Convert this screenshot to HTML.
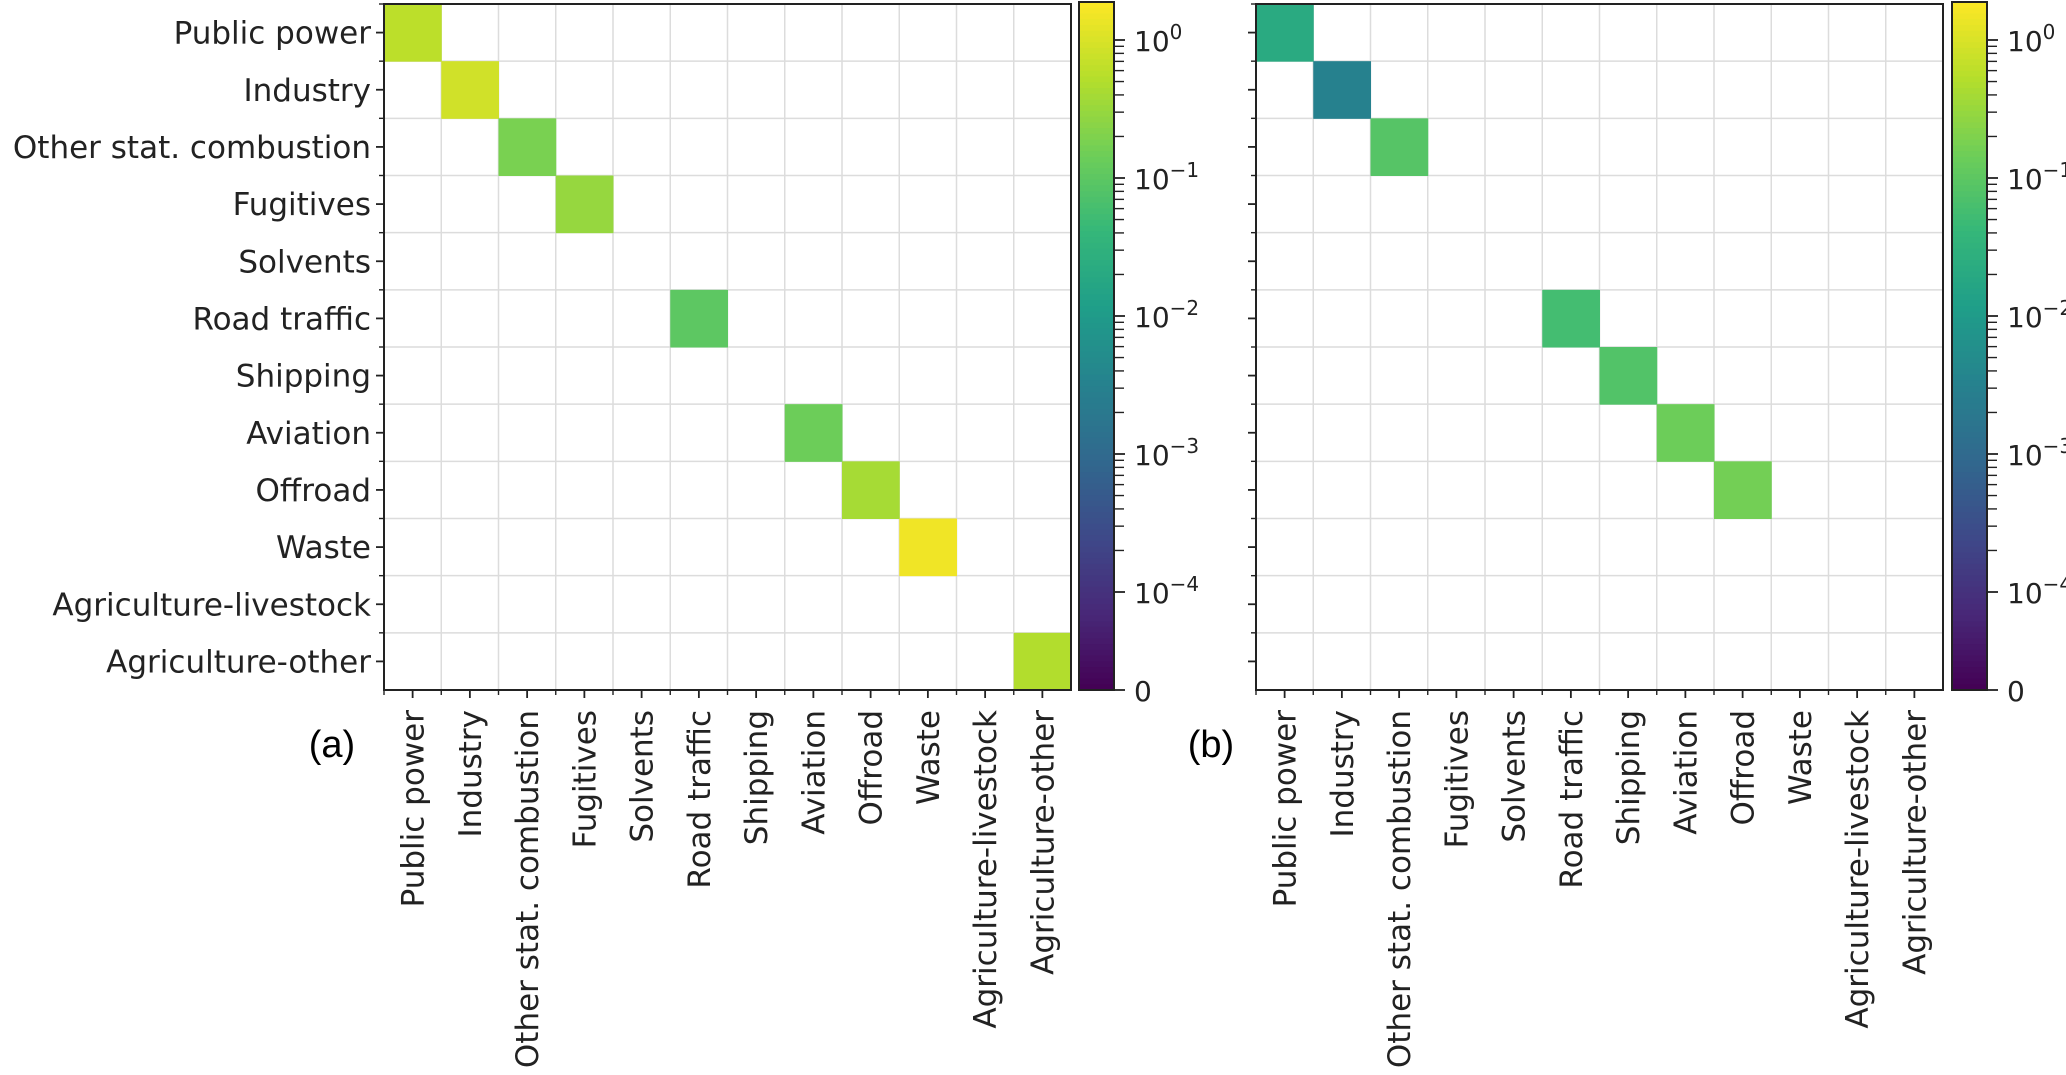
<!DOCTYPE html>
<html><head><meta charset="utf-8">
<style>
html,body{margin:0;padding:0;background:#fff;}
svg{display:block;}
text{font-family:"DejaVu Sans","Liberation Sans",sans-serif;fill:#222;}
.pl{font-family:"Liberation Sans",sans-serif;font-size:38px;fill:#000;}
</style></head>
<body>
<svg id="fig" width="2066" height="1075" viewBox="0 0 2066 1075" xmlns="http://www.w3.org/2000/svg">
<text class="pl" x="332" y="757" text-anchor="middle">(a)</text>
<text class="pl" x="1211" y="757" text-anchor="middle">(b)</text>
</svg>
<script>
const categories = ["Public power","Industry","Other stat. combustion","Fugitives","Solvents","Road traffic","Shipping","Aviation","Offroad","Waste","Agriculture-livestock","Agriculture-other"];
// diagonal values (null = empty)
const valuesA = [0.6,0.85,0.18,0.30,null,0.10,null,0.14,0.40,1.5,null,0.5];
const valuesB = [0.0215,0.0031,0.085,null,null,0.057,0.078,0.14,0.16,null,null,null];
const cbTickLabels = ["0","10","10","10","10","10"];
const cbTickExps = [null,"−4","−3","−2","−1","0"];
const cbTickValues = [0,1e-4,1e-3,1e-2,1e-1,1];

const NS="http://www.w3.org/2000/svg";
const svg=document.getElementById('fig');
function mk(tag,attrs,parent){const e=document.createElementNS(NS,tag);for(const k in attrs)e.setAttribute(k,attrs[k]);(parent||svg).appendChild(e);return e;}

const VIR=[[68,1,84],[72,40,120],[62,73,137],[49,104,142],[38,130,142],[31,158,137],[53,183,121],[110,206,88],[181,222,43],[253,231,37]];
function viridis(t){t=Math.max(0,Math.min(1,t));const s=t*(VIR.length-1);const i=Math.min(VIR.length-2,Math.floor(s));const f=s-i;const c=VIR[i].map((v,k)=>Math.round(v+(VIR[i+1][k]-v)*f));return `rgb(${c[0]},${c[1]},${c[2]})`;}

// symlog norm: bar spans y 2..690 (688px); 1e-4 at 98px, decade = 138px
const CB_TOP=2,CB_BOT=690,CB_H=688;
function normFrac(v){ if(v<=1e-4) return (v/1e-4)*98/CB_H; return (98+(Math.log10(v)+4)*138)/CB_H; }
function cbY(v){return CB_BOT-normFrac(v)*CB_H;}

function panel(px,values,showY,cbx,id){
  const top=4,bot=690,left=px,right=px+687;
  const cw=(right-left)/12,ch=(bot-top)/12;
  const g=mk('g',{});  
  mk('rect',{x:left,y:top,width:right-left,height:bot-top,fill:'#fff'},g);
  for(let i=1;i<12;i++){
    mk('line',{x1:left+i*cw,x2:left+i*cw,y1:top,y2:bot,stroke:'#dcdcdc','stroke-width':1.5},g);
    mk('line',{x1:left,x2:right,y1:top+i*ch,y2:top+i*ch,stroke:'#dcdcdc','stroke-width':1.5},g);
  }
  values.forEach((v,i)=>{ if(v==null) return;
    const r=mk('rect',{x:left+i*cw,y:top+i*ch,width:cw+0.5,height:ch+0.5,fill:viridis(normFrac(v))},g);
    
    
  });
  const fr=mk('rect',{x:left,y:top,width:right-left,height:bot-top,fill:'none',stroke:'#222','stroke-width':2},g);
  
  
  for(let i=0;i<12;i++){
    const cy=top+(i+0.5)*ch, cx=left+(i+0.5)*cw;
    mk('line',{x1:left-8,x2:left,y1:cy,y2:cy,stroke:'#222','stroke-width':1.8},g);
    mk('line',{x1:cx,x2:cx,y1:bot,y2:bot+8,stroke:'#222','stroke-width':1.8},g);
    mk('line',{x1:left-5,x2:left,y1:top+i*ch,y2:top+i*ch,stroke:'#222','stroke-width':1.4},g);
    mk('line',{x1:left+i*cw,x2:left+i*cw,y1:bot,y2:bot+5,stroke:'#222','stroke-width':1.4},g);
    if(showY){
      const t=mk('text',{x:left-13,y:cy+11,'text-anchor':'end','font-size':31},g);
      t.textContent=categories[i];
      
      
    }
    const xt=mk('text',{x:0,y:0,'text-anchor':'end','font-size':31,transform:`translate(${cx+11},${bot+20}) rotate(-90)`},g);
    xt.textContent=categories[i];
    
    
  }
  // colorbar
  const cg=mk('g',{});  
  const N=120;
  for(let k=0;k<N;k++){
    const y0=CB_TOP+k*CB_H/N;
    mk('rect',{x:cbx,y:y0,width:35,height:CB_H/N+0.6,fill:viridis(1-(k+0.5)/N)},cg);
  }
  mk('rect',{x:cbx,y:CB_TOP,width:35,height:CB_H,fill:'none',stroke:'#222','stroke-width':2},cg);
  for(let d=-4;d<=0;d++){for(let m=2;m<=9;m++){const v=m*Math.pow(10,d-1);if(v<1e-4)continue;const y=cbY(v);if(y<CB_TOP)continue;
    mk('line',{x1:cbx+35,x2:cbx+45,y1:y,y2:y,stroke:'#222','stroke-width':1.4},cg);}}
  cbTickValues.forEach((v,i)=>{
    const y=cbY(v);
    mk('line',{x1:cbx+35,x2:cbx+46,y1:y,y2:y,stroke:'#222','stroke-width':1.8},cg);
    const t=mk('text',{x:cbx+55,y:y+11,'font-size':28},cg);
    t.textContent=cbTickLabels[i];
    if(cbTickExps[i]){const ts=mk('tspan',{dy:-12,'font-size':20},t);ts.textContent=cbTickExps[i];}
    
    
  });
}
panel(384,valuesA,true,1079,'a');
panel(1256,valuesB,false,1952,'b');
</script>
</body></html>
